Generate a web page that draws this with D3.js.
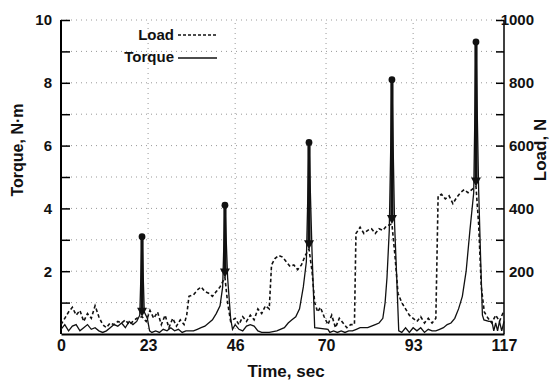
<!DOCTYPE html>
<html>
<head>
<meta charset="utf-8">
<script src="https://cdn.jsdelivr.net/npm/d3@7"></script>
<style>
  body { margin: 0; background: #fff; }
  text { font-family: "Liberation Sans", Arial, sans-serif; font-weight: bold; fill: #111; }
</style>
</head>
<body>
<div id="chart"></div>
<script>
// time ticks shown on the x axis
const timeTicks = [0, 23, 46, 70, 93, 117];
const torqueTicks = [2, 4, 6, 8, 10];
const loadTicks = [200, 400, 600, 800, 1000];

// torque [sec, N·m]
const torque = [
  [0,0.15],[1,0.3],[2,0.1],[3,0.25],[4,0.3],[5,0.1],[6,0.2],[7,0.3],[8,0.15],[9,0.2],
  [10,0.1],[11,0.05],[12,0.1],[13,0.2],[14,0.3],[15,0.25],[16,0.35],[17,0.2],[18,0.4],
  [19,0.3],[20,0.4],[20.8,0.6],[21.4,3.1],[22,0.7],[22.8,0.5],[23.4,0.1],[24,0.05],
  [25,0.1],[26,0.05],[27,0.15],[28,0.1],[29,0.2],[30,0.1],[31,0.15],[32,0.05],[33,0.1],
  [34,0.1],[35,0.1],[36,0.15],[37,0.2],[38,0.25],[39,0.35],[40,0.45],[41,0.65],[42,0.9],
  [42.7,1.5],[43.3,4.1],[44,1.8],[44.8,0.5],[45.3,0.15],[46,0.3],[47,0.15],[48,0.1],
  [49,0.25],[50,0.3],[51,0.25],[52,0.1],[53,0.05],[54,0.05],[55,0.05],[57,0.1],[59,0.2],
  [60,0.35],[61,0.45],[62,0.55],[63,0.8],[64,1.5],[64.8,2.3],[65.5,6.1],[66.3,2.6],
  [67,0.2],[70.5,0.15],[71,0.05],[72,0.1],[73,0.05],[74,0.1],[75,0.05],[76,0.1],[77,0.1],
  [78,0.15],[79,0.2],[80,0.2],[81,0.2],[82,0.25],[83,0.3],[84,0.35],[85,0.5],[85.6,1.0],
  [86.1,1.8],[86.7,3.3],[87.4,8.1],[88.1,3.5],[88.6,2.0],[89.2,0.1],[90,0.05],[91,0.2],
  [92,0.05],[93,0.2],[94,0.1],[95,0.2],[96,0.05],[97,0.15],[98,0.1],[99,0.1],[100,0.15],
  [101,0.2],[102,0.3],[103,0.35],[104,0.5],[105,0.8],[106,1.2],[107,2.0],[108,3.3],
  [109,4.5],[109.6,9.3],[110.3,4.6],[110.8,2.5],[111.3,0.6],[111.7,0.45],[113,0.4],
  [113.8,0.4],[114.3,0.1],[114.8,0.35],[115.3,0.1],[115.8,0.4],[116.4,0.1],[117,0.4]
];

// load [sec, N]
const load = [
  [0,30],[1,50],[2,70],[3,85],[4,60],[5,75],[6,40],[7,65],[8,50],[9,90],[10,55],[11,30],
  [12,20],[13,35],[14,30],[15,40],[16,35],[17,45],[18,30],[19,40],[20,50],[21.4,55],
  [22.5,40],[23.5,75],[24.5,50],[25.5,70],[26.5,30],[27.5,60],[28.5,20],[29.5,50],
  [30.5,25],[31.5,45],[32.5,30],[33.2,60],[33.8,120],[35,125],[36,140],[37,150],[38,135],
  [39,130],[40,120],[41,135],[42,150],[43.3,180],[44,100],[44.8,40],[46,50],[47,30],
  [48,55],[49,40],[50,60],[51,45],[52,80],[53,65],[54,90],[55,80],[55.6,220],[56.5,240],
  [57.5,250],[58.5,245],[59.5,230],[60.5,215],[61.5,220],[62.5,205],[63.5,220],[64.5,250],
  [65.5,270],[66.3,200],[67,100],[67.8,70],[68.5,85],[69.5,55],[70.5,30],[71.5,60],
  [72.5,20],[73.5,50],[74.5,35],[75.5,20],[76.5,30],[77.5,30],[77.9,320],[79,340],
  [80,320],[81,330],[82,335],[83,320],[84,335],[85,330],[86,345],[87.4,350],[88.2,250],
  [89,130],[90,100],[91,80],[92,60],[93,50],[94,40],[95,55],[96,35],[97,50],[98,35],
  [99,50],[99.6,440],[100.5,445],[101.5,430],[102.5,440],[103.5,415],[104.5,435],
  [105.5,450],[106.5,460],[107.5,450],[108.5,460],[109.6,470],[110.3,350],[111,150],
  [111.8,70],[112.8,50],[113.8,35],[114.8,60],[115.8,40],[117,75]
];

// peak markers: time, peak torque, load level where the arrow points
const peakTime = [21.4, 43.3, 65.5, 87.4, 109.6];
const peakTorque = [3.1, 4.1, 6.1, 8.1, 9.3];
const peakLoad = [55, 180, 270, 350, 470];

const width = 550, height = 380;
const margin = {top: 20, right: 46, bottom: 46, left: 61};

const svg = d3.select("#chart").append("svg")
    .attr("width", width)
    .attr("height", height);

const x = d3.scaleLinear().domain([0, 117]).range([margin.left, width - margin.right]);
const y = d3.scaleLinear().domain([0, 10]).range([height - margin.bottom, margin.top]);
const yLoad = d3.scaleLinear().domain([0, 1000]).range([height - margin.bottom, margin.top]);

// dotted grid
svg.append("g")
  .selectAll("line")
  .data(d3.range(1, 11))
  .join("line")
    .attr("x1", margin.left).attr("x2", width - margin.right)
    .attr("y1", d => y(d)).attr("y2", d => y(d))
    .attr("stroke", "#999").attr("stroke-width", 1)
    .attr("stroke-dasharray", "1,4");
svg.append("g")
  .selectAll("line")
  .data(timeTicks.slice(1, -1))
  .join("line")
    .attr("x1", d => x(d)).attr("x2", d => x(d))
    .attr("y1", y(0)).attr("y2", y(10))
    .attr("stroke", "#999").attr("stroke-width", 1)
    .attr("stroke-dasharray", "1,4");

// left axis
const yAxis = svg.append("g")
    .attr("transform", `translate(${margin.left},0)`)
    .call(d3.axisRight(y).tickValues(d3.range(1, 11)).tickSize(9).tickFormat(""));
yAxis.select(".domain").attr("stroke-width", 2).attr("d", `M0,${y(10)}V${y(0)}`);
yAxis.selectAll("line").attr("stroke-width", 1.5);
svg.append("g")
  .selectAll("text")
  .data(torqueTicks)
  .join("text")
    .attr("x", margin.left - 9).attr("y", d => y(d))
    .attr("dy", "0.36em")
    .attr("text-anchor", "end")
    .attr("font-size", 15)
    .text(d => d);

// right axis
const yAxisR = svg.append("g")
    .attr("transform", `translate(${width - margin.right},0)`)
    .call(d3.axisLeft(yLoad).tickValues(d3.range(100, 1001, 100)).tickSize(8).tickFormat(""));
yAxisR.select(".domain").attr("stroke-width", 1.5).attr("d", `M0,${y(10)}V${y(0)}`);
yAxisR.selectAll("line").attr("stroke-width", 1.5);
svg.append("g")
  .selectAll("text")
  .data(loadTicks)
  .join("text")
    .attr("x", width - margin.right + 30).attr("y", d => yLoad(d))
    .attr("dy", "0.36em")
    .attr("text-anchor", "end")
    .attr("font-size", 15)
    .text(d => d);

// bottom axis
const xAxis = svg.append("g")
    .attr("transform", `translate(0,${y(0)})`)
    .call(d3.axisBottom(x).tickValues(timeTicks).tickSize(0).tickPadding(6));
xAxis.select(".domain").attr("stroke-width", 2);
xAxis.selectAll("text")
    .attr("font-size", 16)
    .attr("font-family", "Liberation Sans, Arial, sans-serif")
    .attr("font-weight", "bold")
    .attr("fill", "#111");

// axis titles
svg.append("text")
    .attr("transform", `translate(23,150) rotate(-90)`)
    .attr("text-anchor", "middle")
    .attr("font-size", 16)
    .text("Torque, N·m");
svg.append("text")
    .attr("transform", `translate(546,150) rotate(-90)`)
    .attr("text-anchor", "middle")
    .attr("font-size", 17)
    .text("Load, N");
svg.append("text")
    .attr("x", 286).attr("y", 377)
    .attr("text-anchor", "middle")
    .attr("font-size", 17)
    .text("Time, sec");

// load line
svg.append("path")
    .datum(load)
    .attr("fill", "none")
    .attr("stroke", "#111")
    .attr("stroke-width", 1.6)
    .attr("stroke-dasharray", "3.5,2.5")
    .attr("d", d3.line().x(d => x(d[0])).y(d => yLoad(d[1])));

// torque line
svg.append("path")
    .datum(torque)
    .attr("fill", "none")
    .attr("stroke", "#111")
    .attr("stroke-width", 1.3)
    .attr("d", d3.line().x(d => x(d[0])).y(d => y(d[1])));

// peak spikes
const peaks = peakTime.map((t, i) => ({t, tq: peakTorque[i], ld: peakLoad[i]}));
const pk = svg.append("g").selectAll("g").data(peaks).join("g");
pk.append("line")
    .attr("x1", d => x(d.t)).attr("x2", d => x(d.t))
    .attr("y1", d => y(d.tq)).attr("y2", d => yLoad(d.ld) - 5)
    .attr("stroke", "#111").attr("stroke-width", 3.2);
pk.append("path")
    .attr("d", d => `M${x(d.t) - 5},${yLoad(d.ld) - 9}L${x(d.t) + 5},${yLoad(d.ld) - 9}L${x(d.t)},${yLoad(d.ld)}Z`)
    .attr("fill", "#111");
pk.append("circle")
    .attr("cx", d => x(d.t)).attr("cy", d => y(d.tq))
    .attr("r", 3.4)
    .attr("fill", "#111");

// legend
const lg = svg.append("g");
lg.append("text").attr("x", 174).attr("y", 40).attr("text-anchor", "end").attr("font-size", 15).text("Load");
lg.append("line").attr("x1", 178).attr("x2", 217).attr("y1", 35).attr("y2", 35)
    .attr("stroke", "#111").attr("stroke-width", 1.3).attr("stroke-dasharray", "3,2");
lg.append("text").attr("x", 174).attr("y", 62).attr("text-anchor", "end").attr("font-size", 15).text("Torque");
lg.append("line").attr("x1", 178).attr("x2", 217).attr("y1", 58).attr("y2", 58)
    .attr("stroke", "#111").attr("stroke-width", 1.3);
</script>
</body>
</html>
